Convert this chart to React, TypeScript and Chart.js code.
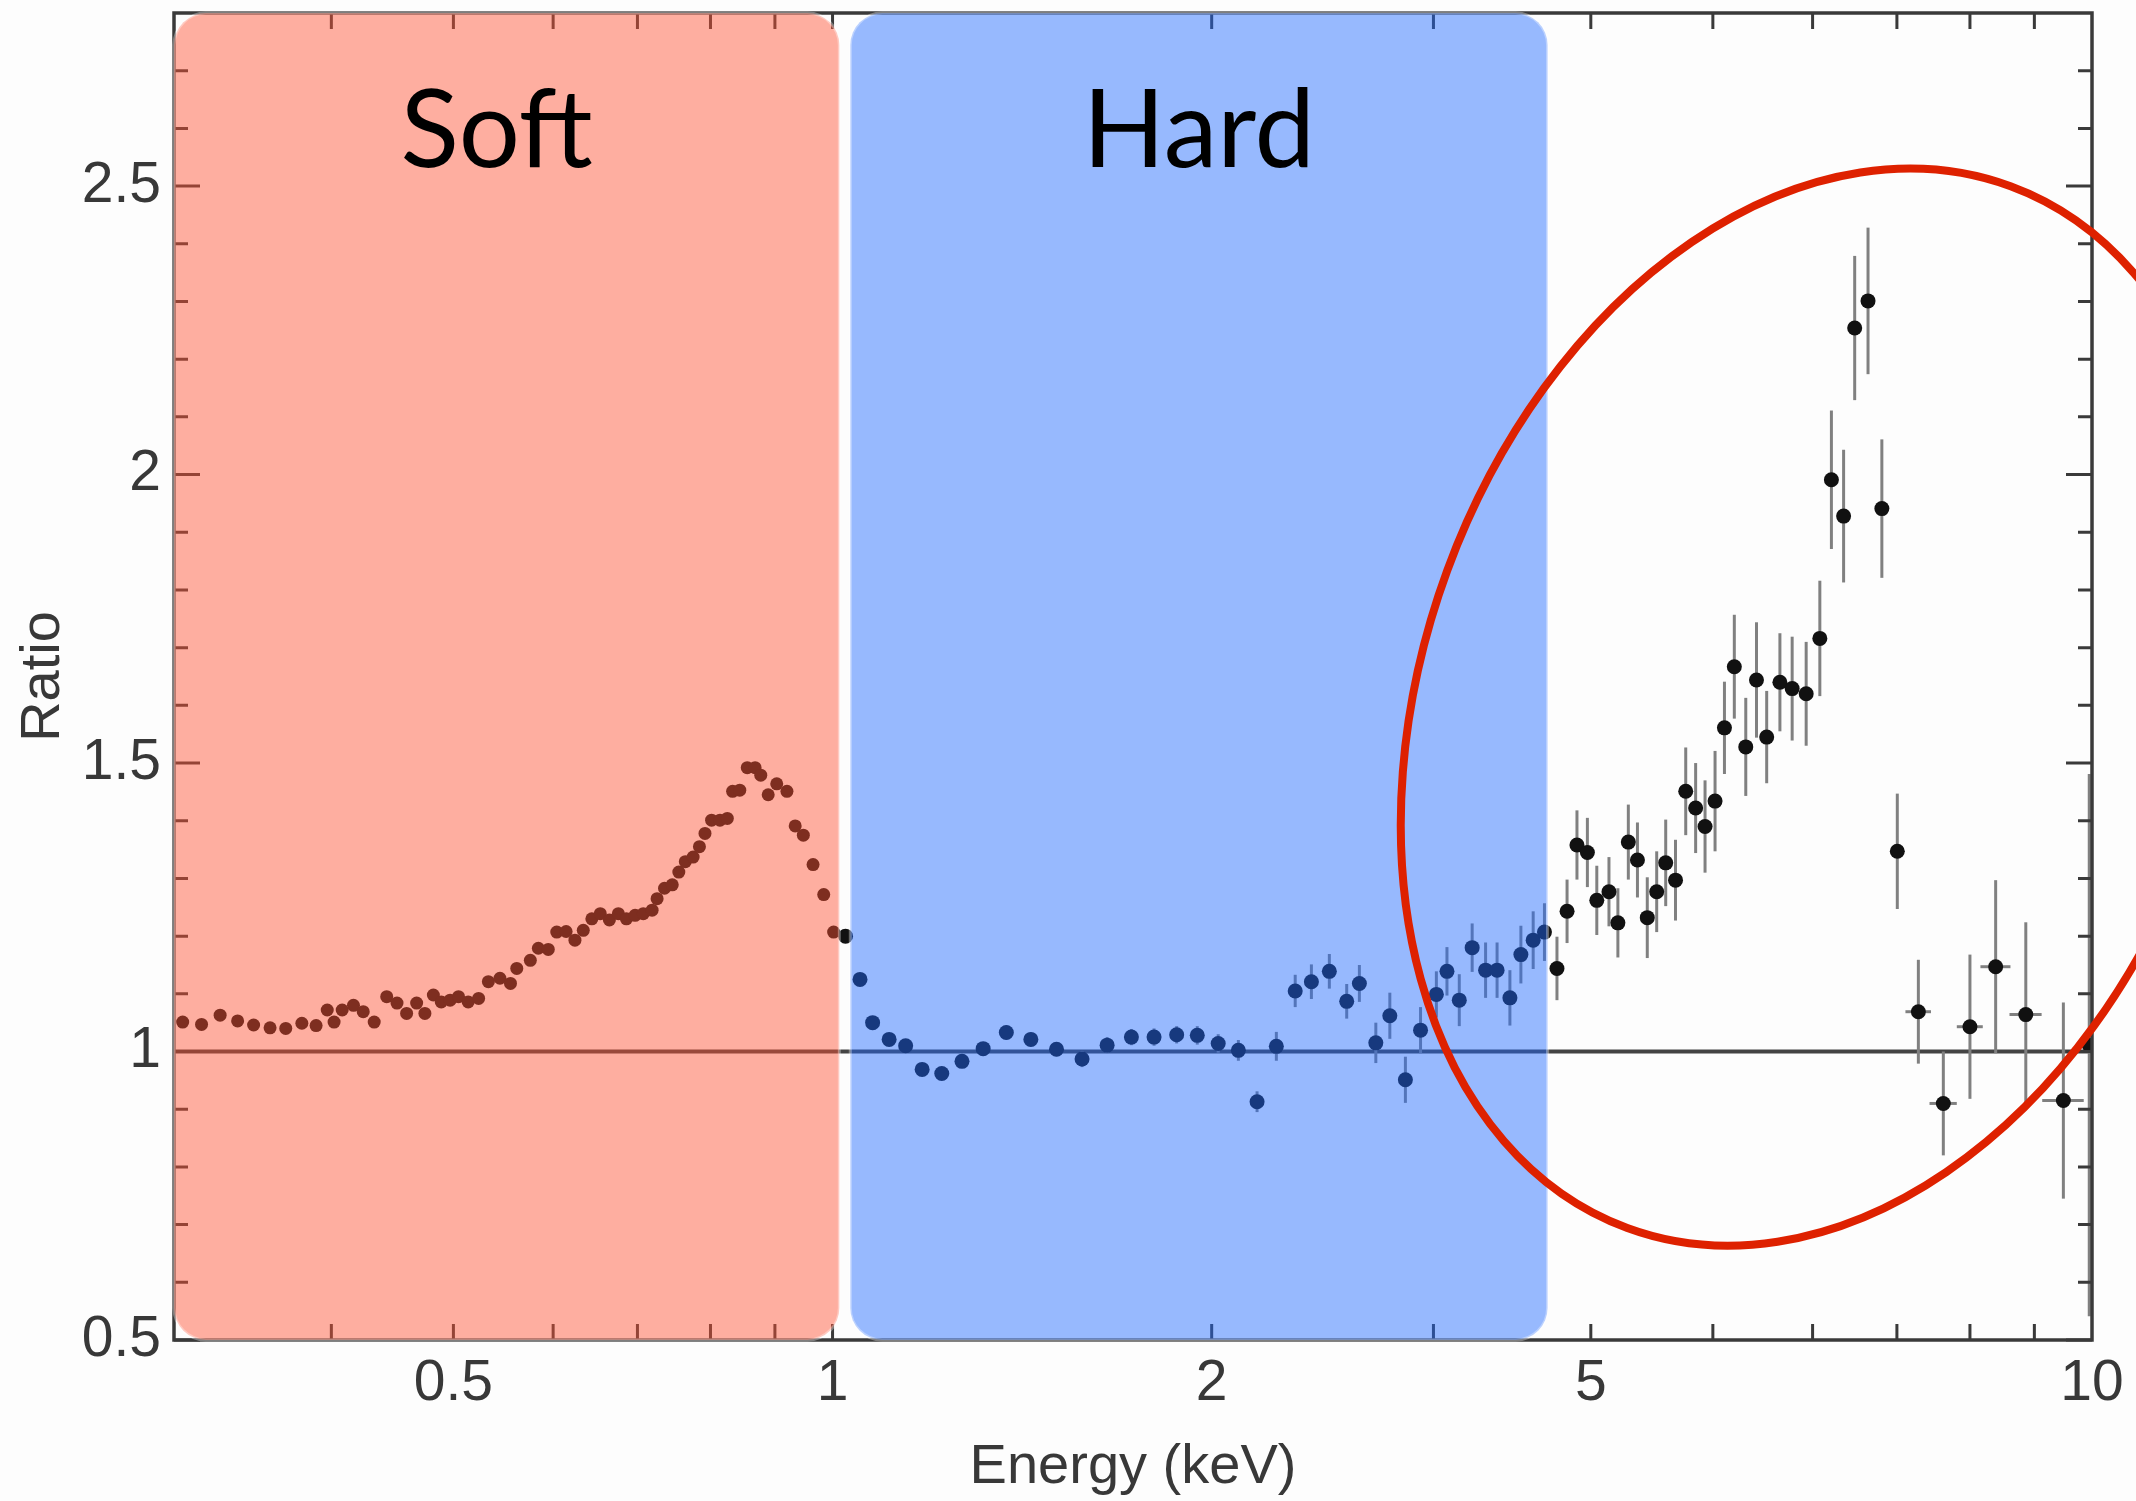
import React, { useEffect, useRef } from 'react';
import { Chart, registerables } from 'chart.js';

Chart.register(...registerables);

// ---------- data ----------
const softEnergy = [
  0.3048, 0.3155, 0.3264, 0.337, 0.347, 0.3576, 0.368, 0.379, 0.389, 0.397,
  0.402, 0.408, 0.4165, 0.424, 0.4326, 0.4426, 0.451, 0.459, 0.4675, 0.4746,
  0.482, 0.489, 0.497, 0.5047, 0.5137, 0.5236, 0.533, 0.5444, 0.555, 0.5614,
  0.5755, 0.584, 0.5947, 0.604, 0.6144, 0.6244, 0.634, 0.644, 0.654, 0.665,
  0.676, 0.686, 0.697, 0.7075, 0.719, 0.7256, 0.7355, 0.746, 0.755, 0.764,
  0.775, 0.784, 0.792, 0.8016, 0.814, 0.825, 0.833, 0.844, 0.8556, 0.868,
  0.877, 0.889, 0.903, 0.92, 0.934, 0.948, 0.965, 0.984, 1.002,
];
const softRatio = [
  1.051, 1.047, 1.063, 1.053, 1.046, 1.041, 1.04, 1.049, 1.045, 1.072,
  1.051, 1.072, 1.08, 1.069, 1.051, 1.095, 1.084, 1.066, 1.084, 1.066,
  1.098, 1.086, 1.089, 1.095, 1.086, 1.092, 1.121, 1.127, 1.118, 1.144,
  1.158, 1.179, 1.177, 1.207, 1.208, 1.193, 1.21, 1.23, 1.239, 1.228,
  1.239, 1.23, 1.236, 1.239, 1.245, 1.265, 1.283, 1.289, 1.311, 1.329,
  1.337, 1.355, 1.378, 1.401, 1.401, 1.404, 1.451, 1.453, 1.492, 1.492,
  1.479, 1.445, 1.464, 1.451, 1.391, 1.375, 1.324, 1.272, 1.207,
];

const hardEnergy = [
  1.024, 1.0515, 1.076, 1.109, 1.143, 1.178, 1.221, 1.267, 1.317, 1.374,
  1.437, 1.506, 1.578, 1.652, 1.727, 1.8, 1.876, 1.948, 2.024, 2.1,
  2.173, 2.251, 2.33, 2.4, 2.48, 2.56, 2.62, 2.7, 2.77, 2.85,
  2.93, 3.016, 3.075, 3.145, 3.22, 3.3, 3.37, 3.45, 3.52, 3.6, 3.675,
];
const hardRatio = [
  1.2, 1.125, 1.05, 1.021, 1.01, 0.969, 0.962, 0.983, 1.005, 1.033,
  1.021, 1.004, 0.987, 1.011, 1.025, 1.025, 1.029, 1.028, 1.014, 1.002,
  0.913, 1.009, 1.105, 1.121, 1.139, 1.087, 1.118, 1.015, 1.062, 0.951,
  1.037, 1.099, 1.139, 1.089, 1.18, 1.141, 1.141, 1.093, 1.168, 1.193, 1.207,
];
const hardErr = [
  0.01, 0.01, 0.01, 0.01, 0.01, 0.01, 0.01, 0.01, 0.01, 0.012,
  0.012, 0.012, 0.014, 0.014, 0.014, 0.015, 0.015, 0.016, 0.016, 0.018,
  0.018, 0.025, 0.028, 0.03, 0.03, 0.03, 0.032, 0.035, 0.04, 0.04,
  0.04, 0.04, 0.042, 0.045, 0.042, 0.048, 0.048, 0.048, 0.05, 0.05, 0.05,
];

const highEnergy = [
  3.76, 3.83, 3.9, 3.975, 4.044, 4.135, 4.203, 4.284, 4.356, 4.435,
  4.512, 4.587, 4.67, 4.758, 4.845, 4.929, 5.02, 5.107, 5.2, 5.31,
  5.415, 5.517, 5.652, 5.78, 5.93, 6.08, 6.21, 6.35, 6.48, 6.64,
  6.81, 7.005, 7.28, 7.62, 8.0, 8.385, 8.86, 9.49, 9.95,
];
const highRatio = [
  1.144, 1.243, 1.358, 1.345, 1.262, 1.277, 1.223, 1.363, 1.332, 1.232,
  1.277, 1.327, 1.297, 1.451, 1.422, 1.39, 1.434, 1.561, 1.667, 1.528,
  1.644, 1.545, 1.64, 1.629, 1.62, 1.716, 1.991, 1.928, 2.254, 2.301,
  1.941, 1.347, 1.069, 0.91, 1.043, 1.147, 1.064, 0.915, 1.011,
];
const highErr = [
  0.055, 0.055, 0.06, 0.06, 0.06, 0.06, 0.06, 0.065, 0.065, 0.07,
  0.07, 0.075, 0.07, 0.076, 0.078, 0.08, 0.087, 0.08, 0.09, 0.085,
  0.1, 0.08, 0.085, 0.09, 0.09, 0.1, 0.12, 0.115, 0.125, 0.127,
  0.12, 0.1, 0.09, 0.09, 0.125, 0.15, 0.16, 0.17, 0.47,
];
const highXErr = [
  0, 0, 0, 0, 0, 0, 0, 0, 0, 0,
  0, 0, 0, 0, 0, 0, 0, 0, 0, 0,
  0, 0, 0, 0, 0, 0, 0, 0, 0, 0,
  0, 0.08, 0.17, 0.19, 0.19, 0.23, 0.26, 0.36, 0,
];

const referenceRatio = 1;

// ---------- axes ----------
const xMin = 0.3;
const xMax = 10;
const yMin = 0.5;
const yMax = 2.8;
const xTickValues = [0.5, 1, 2, 4, 10];
const xTickLabels = ['0.5', '1', '2', '5', '10'];
const xMinorTicks = [0.4, 0.5, 0.6, 0.7, 0.8, 0.9, 1, 2, 3, 4, 5, 6, 7, 8, 9];
const yTickValues = [0.5, 1, 1.5, 2, 2.5];
const yTickLabels = ['0.5', '1', '1.5', '2', '2.5'];
const yMinorTicks = [
  0.6, 0.7, 0.8, 0.9, 1.1, 1.2, 1.3, 1.4, 1.6, 1.7, 1.8, 1.9,
  2.1, 2.2, 2.3, 2.4, 2.6, 2.7,
];

// ---------- annotations ----------
const bandLabels = ['Soft', 'Hard'];
const bandFrom = [0.3, 1.033];
const bandTo = [1.0125, 3.696];
const bandFill = ['rgba(255,80,50,0.46)', 'rgba(30,105,255,0.46)'];
const highlightEnergy = 6.07;
const highlightRatio = 1.597;

const AXIS_FONT = 'Liberation Sans, Arial, Helvetica, sans-serif';

const drawPlugin = {
  id: 'customDraw',
  beforeDraw(chart: any) {
    const { ctx, width, height } = chart;
    ctx.save();
    ctx.fillStyle = '#fdfdfd';
    ctx.fillRect(0, 0, width, height);
    ctx.restore();
  },
  beforeDatasetsDraw(chart: any) {
    const { ctx, chartArea: ca, scales } = chart;
    const x = scales.x;
    const y = scales.y;
    ctx.save();
    ctx.beginPath();
    ctx.rect(ca.left, ca.top, ca.right - ca.left, ca.bottom - ca.top);
    ctx.clip();
    // reference line at ratio = 1
    const y1 = y.getPixelForValue(referenceRatio);
    ctx.strokeStyle = '#444';
    ctx.lineWidth = 4;
    ctx.beginPath();
    ctx.moveTo(ca.left, y1);
    ctx.lineTo(ca.right, y1);
    ctx.stroke();
    // error bars
    ctx.strokeStyle = '#808080';
    ctx.lineWidth = 3;
    const drawErr = (es: number[], rs: number[], errs: number[], xerrs?: number[]) => {
      for (let i = 0; i < es.length; i++) {
        const px = x.getPixelForValue(es[i]);
        const e = errs[i];
        ctx.beginPath();
        ctx.moveTo(px, y.getPixelForValue(rs[i] - e));
        ctx.lineTo(px, y.getPixelForValue(rs[i] + e));
        ctx.stroke();
        if (xerrs && xerrs[i] > 0) {
          const py = y.getPixelForValue(rs[i]);
          ctx.beginPath();
          ctx.moveTo(x.getPixelForValue(es[i] - xerrs[i]), py);
          ctx.lineTo(x.getPixelForValue(es[i] + xerrs[i]), py);
          ctx.stroke();
        }
      }
    };
    drawErr(hardEnergy, hardRatio, hardErr);
    drawErr(highEnergy, highRatio, highErr, highXErr);
    ctx.restore();
  },
  afterDatasetsDraw(chart: any) {
    const { ctx, chartArea: ca, scales } = chart;
    const x = scales.x;
    const y = scales.y;
    ctx.save();
    // ticks (inward) and frame
    ctx.strokeStyle = '#3a3a3a';
    ctx.lineWidth = 3;
    ctx.beginPath();
    for (const v of yMinorTicks) {
      const py = y.getPixelForValue(v);
      ctx.moveTo(ca.left, py); ctx.lineTo(ca.left + 14, py);
      ctx.moveTo(ca.right, py); ctx.lineTo(ca.right - 14, py);
    }
    for (const v of yTickValues) {
      const py = y.getPixelForValue(v);
      ctx.moveTo(ca.left, py); ctx.lineTo(ca.left + 26, py);
      ctx.moveTo(ca.right, py); ctx.lineTo(ca.right - 26, py);
    }
    for (const v of xMinorTicks) {
      const px = x.getPixelForValue(v);
      ctx.moveTo(px, ca.bottom); ctx.lineTo(px, ca.bottom - 16);
      ctx.moveTo(px, ca.top); ctx.lineTo(px, ca.top + 16);
    }
    ctx.stroke();
    ctx.lineWidth = 3.5;
    ctx.strokeRect(ca.left, ca.top, ca.right - ca.left, ca.bottom - ca.top);

    // translucent bands on top of the data
    for (let i = 0; i < bandLabels.length; i++) {
      const x0 = x.getPixelForValue(bandFrom[i]);
      const x1 = x.getPixelForValue(bandTo[i]);
      ctx.beginPath();
      (ctx as any).roundRect(x0, ca.top, x1 - x0, ca.bottom - ca.top, 32);
      ctx.fillStyle = bandFill[i];
      ctx.fill();
      ctx.strokeStyle = 'rgba(255,255,255,0.35)';
      ctx.lineWidth = 3;
      ctx.stroke();
    }
    ctx.restore();
  },
  afterDraw(chart: any) {
    const { ctx, chartArea: ca, scales } = chart;
    const x = scales.x;
    const y = scales.y;
    ctx.save();
    // band labels
    ctx.fillStyle = '#000';
    ctx.font = '108px Lato, "Noto Sans", sans-serif';
    ctx.textAlign = 'center';
    ctx.textBaseline = 'alphabetic';
    for (let i = 0; i < bandLabels.length; i++) {
      const x0 = x.getPixelForValue(bandFrom[i]);
      const x1 = x.getPixelForValue(bandTo[i]);
      ctx.fillText(bandLabels[i], (x0 + x1) / 2 - (i === 0 ? 10 : 0), ca.top + 154);
    }
    // highlight ellipse
    const cx = x.getPixelForValue(highlightEnergy);
    const cy = y.getPixelForValue(highlightRatio);
    ctx.strokeStyle = '#DE2100';
    ctx.lineWidth = 8;
    ctx.beginPath();
    ctx.ellipse(cx, cy, 555, 396, (-69.8 * Math.PI) / 180, 0, Math.PI * 2);
    ctx.stroke();
    ctx.restore();
  },
};

const toPoints = (es: number[], rs: number[]) => es.map((e, i) => ({ x: e, y: rs[i] }));

export default function App() {
  const canvasRef = useRef<HTMLCanvasElement | null>(null);

  useEffect(() => {
    const canvas = canvasRef.current;
    if (!canvas) return;
    const chart = new Chart(canvas, {
      type: 'scatter',
      data: {
        datasets: [
          {
            label: 'Soft',
            data: toPoints(softEnergy, softRatio),
            pointRadius: 6.5,
            pointBackgroundColor: '#111',
            pointBorderWidth: 0,
          },
          {
            label: 'Hard',
            data: toPoints(hardEnergy, hardRatio),
            pointRadius: 7.5,
            pointBackgroundColor: '#111',
            pointBorderWidth: 0,
          },
          {
            label: 'High',
            data: toPoints(highEnergy, highRatio),
            pointRadius: 7.5,
            pointBackgroundColor: '#111',
            pointBorderWidth: 0,
          },
        ],
      },
      options: {
        animation: false,
        responsive: false,
        devicePixelRatio: 1,
        layout: { padding: { top: 13, right: 44, left: 0, bottom: 0 } },
        plugins: {
          legend: { display: false },
          tooltip: { enabled: false },
        },
        scales: {
          x: {
            type: 'logarithmic',
            min: xMin,
            max: xMax,
            grid: { display: false, drawTicks: false },
            border: { display: false },
            afterBuildTicks: (s: any) => {
              s.ticks = xTickValues.map((v) => ({ value: v }));
            },
            afterFit: (s: any) => {
              s.height = 161;
              s.paddingLeft = 0;
              s.paddingRight = 0;
            },
            ticks: {
              autoSkip: false,
              maxRotation: 0,
              minRotation: 0,
              padding: 10,
              color: '#383838',
              font: { family: AXIS_FONT, size: 57 },
              callback: (_v: any, i: number) => xTickLabels[i],
            },
            title: {
              display: true,
              text: 'Energy (keV)',
              color: '#383838',
              font: { family: AXIS_FONT, size: 56 },
              padding: { top: 0, bottom: 0 },
            },
          },
          y: {
            type: 'linear',
            min: yMin,
            max: yMax,
            grid: { display: false, drawTicks: false },
            border: { display: false },
            afterBuildTicks: (s: any) => {
              s.ticks = yTickValues.map((v) => ({ value: v }));
            },
            afterFit: (s: any) => {
              s.width = 174;
              s.paddingTop = 0;
              s.paddingBottom = 0;
            },
            ticks: {
              autoSkip: false,
              padding: 13,
              color: '#383838',
              font: { family: AXIS_FONT, size: 57 },
              callback: (_v: any, i: number) => yTickLabels[i],
            },
            title: {
              display: true,
              text: 'Ratio',
              color: '#383838',
              font: { family: AXIS_FONT, size: 56 },
              padding: { top: 10, bottom: 0 },
            },
          },
        },
      } as any,
      plugins: [drawPlugin],
    });
    return () => chart.destroy();
  }, []);

  return (
    <div style={{ position: 'absolute', left: 0, top: 0, width: 2136, height: 1501 }}>
      <canvas ref={canvasRef} width={2136} height={1501} style={{ width: 2136, height: 1501, display: 'block' }} />
    </div>
  );
}
